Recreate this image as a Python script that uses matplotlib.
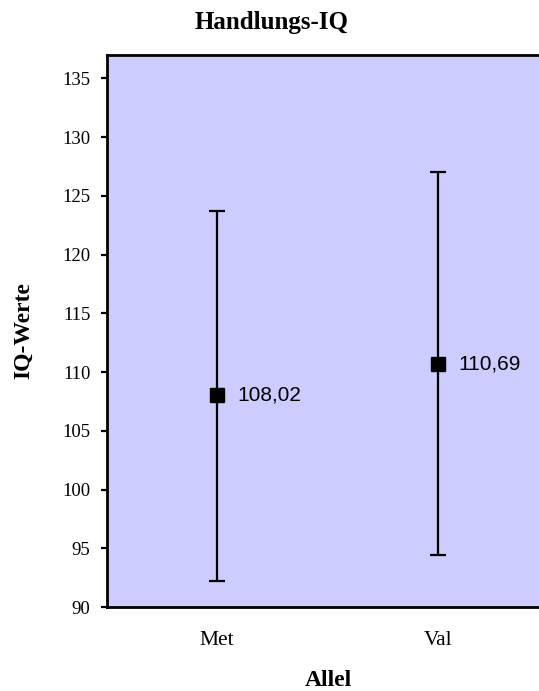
import matplotlib
matplotlib.use("Agg")
import matplotlib.pyplot as plt

# Handlungs-IQ by allele: mean with error range
alleles = ["Met", "Val"]
means = [108.02, 110.69]
lower = [92.2, 94.4]
upper = [123.7, 127.0]
mean_labels = ["108,02", "110,69"]
yticks = [90, 95, 100, 105, 110, 115, 120, 125, 130, 135]

W, H = 539, 691
fig = plt.figure(figsize=(W / 100, H / 100), dpi=100)
ax = fig.add_axes([107 / W, 1 - 607 / H, 441 / W, 552 / H])
ax.set_facecolor("#CCCCFF")

x = list(range(len(alleles)))
yerr = [[m - lo for m, lo in zip(means, lower)],
        [hi - m for m, hi in zip(means, upper)]]
ax.errorbar(x, means, yerr=yerr, fmt="none", ecolor="black",
            elinewidth=1.6, capsize=6, capthick=1.6, zorder=2)
ax.plot(x, means, linestyle="none", marker="s", markersize=9.6,
        color="black", zorder=3)
for xi, m, lab in zip(x, means, mean_labels):
    ax.annotate(lab, (xi, m), xytext=(14.5, 0), textcoords="offset points",
                va="center", ha="left", fontsize=15,
                family="Liberation Sans", color="black")

ax.set_xlim(-0.5, 1.5)
ax.set_ylim(90, 137)
ax.set_yticks(yticks)
ax.set_yticklabels([str(t) for t in yticks], family="Liberation Serif",
                   fontsize=13.5)
ax.set_xticks(x)
ax.set_xticklabels(alleles, family="Liberation Serif", fontsize=15.5)
ax.tick_params(axis="y", direction="out", length=4.5, width=1.6, pad=7.5)
ax.tick_params(axis="x", length=0, pad=17)

for side in ("left", "top", "bottom"):
    ax.spines[side].set_linewidth(2)
    ax.spines[side].set_color("black")
ax.spines["right"].set_visible(False)

fig.text(272 / W, 1 - 29 / H, "Handlungs-IQ", ha="center", va="baseline",
         family="Liberation Serif", fontweight="bold", fontsize=18)
fig.text(24 / W, 1 - 331 / H, "IQ-Werte", ha="center", va="center",
         rotation=90, family="Liberation Serif", fontweight="bold",
         fontsize=17)
fig.text(328 / W, 1 - 686 / H, "Allel", ha="center", va="baseline",
         family="Liberation Serif", fontweight="bold", fontsize=17)

fig.savefig("out.png", dpi=100)
